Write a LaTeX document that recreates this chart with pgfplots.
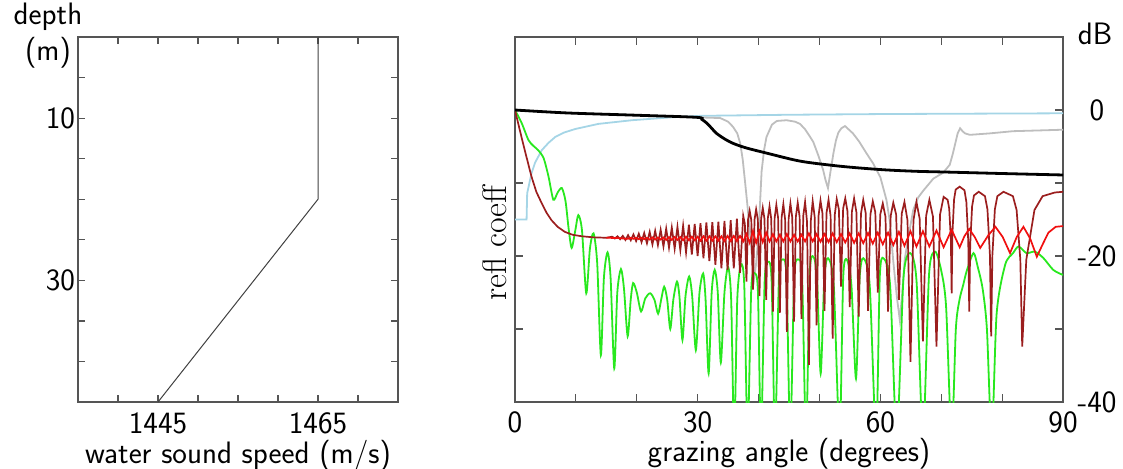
\documentclass[border=0pt]{standalone}
\usepackage{fontspec}
\usepackage{pgfplots}
\pgfplotsset{compat=1.18}
\definecolor{lblue}{RGB}{165,213,230}
\definecolor{lgray}{RGB}{190,190,190}
\definecolor{lgreen}{RGB}{40,232,30}
\definecolor{bred}{RGB}{240,15,15}
\definecolor{dred}{RGB}{155,30,30}
\definecolor{axgray}{RGB}{85,85,85}
\newcommand{\lab}{\sffamily\fontsize{15.5}{18}\selectfont}
\begin{document}
\begin{tikzpicture}
\path[use as bounding box] (0,0) rectangle (561.5pt,234pt);
% ---------------- left panel ----------------
\begin{axis}[
  at={(39pt,33pt)}, anchor=south west, scale only axis,
  width=160pt, height=182.5pt,
  xmin=1435, xmax=1475, ymin=0, ymax=45, y dir=reverse,
  xtick={1445,1465}, xticklabels={1445,1465},
  minor xtick={1440,1450,1455,1460,1470},
  ytick={10,30}, yticklabels={10,30},
  minor ytick={5,15,20,25,35,40},
  tick align=inside, xtick pos=both, ytick pos=both,
  xticklabel pos=lower, yticklabel pos=left,
  major tick length=3.5pt, minor tick length=3.5pt,
  tick style={axgray, line width=0.6pt},
  axis line style={axgray, line width=0.7pt},
  tick label style={font=\lab},
  yticklabel style={xshift=2pt},
  xticklabel style={yshift=-2pt},
  xlabel={water sound speed (m/s)},
  xlabel style={font=\lab, at={(axis description cs:0.5,0)}, anchor=center, yshift=-27pt},
]
\addplot[black!75, line width=0.5pt] coordinates {(1465,0)(1465,20)(1445,45)};
\end{axis}
% ---------------- right panel ----------------
\begin{axis}[
  at={(257.5pt,33pt)}, anchor=south west, scale only axis,
  width=274pt, height=182.5pt,
  xmin=0, xmax=90, ymin=-40, ymax=10,
  xtick={0,30,60,90}, xticklabels={0,30,60,90},
  minor xtick={10,20,40,50,70,80},
  ytick={-40,-20,0}, yticklabels={-40,-20,0},
  minor ytick={-30,-10},
  tick align=inside, xtick pos=both, ytick pos=both,
  xticklabel pos=lower, yticklabel pos=right,
  major tick length=4pt, minor tick length=4pt,
  tick style={axgray, line width=0.6pt},
  axis line style={axgray, line width=0.7pt},
  tick label style={font=\lab},
  yticklabel style={anchor=center, xshift=17pt},
  xticklabel style={yshift=-1.5pt},
  xlabel={grazing angle (degrees)},
  xlabel style={font=\lab, at={(axis description cs:0.5,0)}, anchor=center, yshift=-26pt},
]
% light blue
\addplot[lblue, line width=0.9pt] coordinates {
(0,-15)(1.9,-15)(2.0,-11.4)(2.7,-8.7)(3.3,-7.2)(4.4,-5.5)(5.5,-4.5)(6.6,-3.7)(8.0,-3.1)(9.9,-2.6)(13.7,-1.9)(19.2,-1.4)(25.7,-1.0)(30.4,-0.8)(45,-0.65)(60.8,-0.55)(75,-0.5)(90,-0.45)};
% gray
\addplot[lgray, line width=0.9pt] coordinates {
(0,0)(8.5,-0.4)(19.4,-0.7)(29.8,-1.0)(33.7,-1.1)(35.0,-1.6)(35.8,-2.3)(36.5,-3.2)(37.0,-4.6)(37.4,-6.8)(37.8,-10.0)(38.2,-13.3)(38.6,-16.9)(39.0,-21.0)(39.3,-23.0)(39.6,-21.0)(40.0,-16.9)(40.5,-8.4)(40.9,-5.5)(41.3,-3.7)(42.2,-2.0)(43.0,-1.5)(44.6,-1.4)(46.0,-1.6)(46.8,-1.9)(47.6,-2.6)(48.4,-3.6)(49.0,-4.4)(49.8,-6.2)(50.6,-8.2)(51.0,-9.6)(51.4,-10.7)(51.8,-8.5)(52.3,-5.9)(52.7,-4.2)(53.1,-3.1)(53.6,-2.5)(54.2,-2.2)(55.5,-3.2)(56.5,-4.3)(57.7,-5.9)(58.8,-7.3)(60.0,-9.2)(61.0,-12.3)(61.6,-15.5)(62.1,-20.5)(62.7,-25.5)(63.2,-28.8)(63.6,-25.0)(64.0,-20.5)(64.6,-17.4)(65.4,-13.7)(66.2,-12.0)(67.1,-11.0)(68.7,-9.4)(70.3,-8.6)(71.4,-7.5)(71.9,-6.0)(72.3,-4.6)(72.7,-3.2)(73.1,-2.5)(73.5,-2.9)(73.9,-3.2)(74.7,-3.4)(78,-3.2)(81.8,-2.9)(86,-2.8)(90,-2.7)};
% green
\addplot[lgreen, line width=0.9pt, smooth, tension=0.45] coordinates {
(0,0)(1.1,-1.8)(2.2,-4.1)(3.0,-4.9)(3.8,-5.5)(4.7,-6.6)(5.5,-9.1)(6.3,-12.3)(7.0,-11.3)(7.7,-10.7)(8.3,-12.5)(8.8,-16.2)(9.3,-18.9)(9.9,-16.5)(10.4,-14.4)(11.0,-16.5)(11.7,-25.1)(12.3,-19.0)(12.9,-16.9)(13.5,-21.0)(14.1,-33.6)(14.6,-23.0)(15.2,-19.5)(15.7,-23.0)(16.3,-35.4)(16.8,-25.0)(17.4,-21.8)(17.9,-24.5)(18.5,-31.0)(19.0,-26.0)(19.4,-23.7)(20.0,-25.0)(20.7,-27.6)(21.4,-25.8)(22.2,-25.1)(22.9,-26.0)(23.5,-27.9)(24.0,-26.0)(24.5,-24.2)(25.0,-26.0)(25.5,-30.0)(26.0,-26.0)(26.6,-23.5)(27.0,-25.5)(27.5,-31.5)(28.0,-25.5)(28.6,-22.8)(29.1,-25.5)(29.7,-32.9)(30.3,-25.0)(30.9,-22.4)(31.3,-26.0)(31.8,-36.1)(32.3,-25.0)(32.8,-21.9)(33.3,-25.0)(33.8,-34.6)(34.4,-25.0)(35.0,-21.5)(35.5,-26.0)(36.0,-45)(36.5,-26.0)(37.1,-21.2)(37.65,-24.0)(38.2,-45)(38.8,-24.5)(39.4,-22.4)(39.9,-25.0)(40.4,-45)(41.0,-23.5)(41.6,-20.8)(42.15,-23.5)(42.7,-45)(43.35,-23.0)(44.0,-20.5)(44.6,-23.0)(45.2,-45)(45.85,-23.0)(46.5,-20.5)(47.15,-23.0)(47.8,-45)(48.4,-22.5)(49.0,-20.1)(49.6,-23.0)(50.2,-36.1)(50.8,-23.0)(51.4,-20.3)(52.35,-24.0)(53.3,-45)(53.9,-23.0)(54.5,-20.5)(55.25,-24.0)(56.0,-36.8)(56.6,-23.0)(57.2,-20.3)(58.25,-24.0)(59.3,-45)(59.9,-23.0)(60.5,-20.3)(61.6,-24.0)(62.7,-45)(63.8,-23.0)(64.9,-19.6)(65.95,-23.5)(67.0,-45)(68.0,-22.5)(69.0,-19.4)(70.0,-22.0)(70.8,-27.0)(71.7,-45)(72.4,-30.0)(73.0,-26.0)(73.6,-24.0)(74.2,-22.0)(75.3,-19.6)(76.0,-21.5)(76.8,-24.5)(77.5,-30.0)(78.3,-45)(79.1,-27.9)(80.5,-21.2)(81.8,-19.6)(82.7,-18.7)(84.0,-19.6)(85.4,-19.4)(86.8,-20.3)(88.4,-21.9)(90,-22.6)};
% dark red
\addplot[dred, line width=0.85pt] coordinates {
(0,0)(0.8,-2.8)(1.6,-5.5)(2.7,-9.1)(3.5,-11.2)(4.4,-12.8)(5.2,-14.1)(6,-15.1)(7,-16.0)(8.2,-16.7)(9.5,-17.1)(11,-17.3)(13,-17.45)(15,-17.5)
(15.96,-17.35)(16.40,-17.6)(16.83,-17.3)(17.27,-17.7)(17.70,-17.25)(18.14,-17.8)(18.57,-17.15)(19.01,-17.85)(19.45,-17.05)(19.89,-17.95)
(20.33,-16.95)(20.78,-18.1)(21.22,-16.85)(21.67,-18.25)(22.12,-16.7)(22.57,-18.4)(23.02,-16.55)(23.47,-18.5)(23.92,-16.4)(24.38,-18.7)
(24.83,-16.25)(25.29,-18.85)(25.75,-16.1)(26.22,-19.0)(26.68,-16.0)(27.15,-19.2)(27.61,-15.85)(28.09,-19.5)(28.56,-15.7)(29.04,-19.8)
(29.51,-15.6)(29.99,-20.0)(30.46,-15.5)(30.95,-20.3)(31.43,-15.4)(31.92,-20.7)(32.41,-15.35)(32.91,-21.2)(33.40,-15.3)(33.90,-21.7)
(34.40,-15.2)(34.91,-21.9)(35.42,-15.1)(35.93,-21.7)(36.44,-14.9)(36.96,-22.3)
(37.48,-14.5)(37.75,-15.6)(38.01,-23.5)(38.28,-15.0)
(38.54,-13.8)(38.81,-15.1)(39.07,-24.6)(39.34,-15.0)
(39.60,-13.6)(39.88,-15.0)(40.15,-25.5)(40.42,-14.9)
(40.69,-13.4)(40.97,-14.9)(41.25,-26.0)(41.53,-14.8)
(41.80,-13.2)(42.08,-14.9)(42.36,-27.6)(42.64,-14.8)
(42.92,-13.0)(43.21,-14.8)(43.50,-27.8)(43.79,-14.7)
(44.07,-12.9)(44.36,-15.0)(44.65,-30.4)(44.94,-14.9)
(45.23,-12.8)(45.53,-14.7)(45.83,-29.0)(46.13,-14.6)
(46.43,-12.7)(46.74,-14.6)(47.04,-28.6)(47.34,-14.5)
(47.64,-12.6)(47.96,-15.3)(48.27,-34.9)(48.58,-15.2)
(48.89,-12.5)(49.21,-14.6)(49.53,-29.5)(49.85,-14.5)
(50.17,-12.4)(50.50,-14.2)(50.83,-27.5)(51.16,-14.1)
(51.49,-12.3)(51.83,-14.5)(52.17,-31.3)(52.51,-14.4)
(52.84,-12.2)(53.19,-13.6)(53.54,-24.2)(53.89,-13.5)
(54.24,-12.1)(54.61,-13.9)(54.97,-27.0)(55.33,-13.9)
(55.69,-12.1)(56.07,-14.0)(56.44,-28.3)(56.82,-14.2)
(57.19,-12.3)(57.59,-14.1)(57.98,-27.5)(58.37,-14.3)
(58.76,-12.5)(59.17,-14.0)(59.58,-25.0)(59.99,-14.3)
(60.40,-12.8)(60.84,-14.6)(61.27,-27.6)(61.70,-14.5)
(62.13,-12.7)(62.59,-14.3)(63.05,-26.0)(63.51,-14.2)
(63.96,-12.6)(64.46,-15.1)(64.95,-34.5)(65.44,-15.1)
(65.93,-12.6)(66.46,-14.9)(66.99,-31.7)(67.52,-14.5)
(68.05,-12.3)(68.64,-14.6)(69.22,-32.4)(69.81,-14.3)
(70.39,-11.9)(71.05,-12.3)(71.31,-13.5)(71.58,-17.7)(71.71,-25.1)(71.84,-16.9)(72.11,-12.25)(72.37,-10.9)
(73.03,-10.5)(73.82,-11.0)(74.13,-12.6)(74.44,-18.0)(74.60,-27.6)(74.76,-18.4)(75.07,-13.2)(75.38,-11.7)
(76.16,-11.2)(77.18,-11.8)(77.59,-13.6)(78.00,-19.9)(78.20,-31.0)(78.40,-19.9)(78.81,-13.6)(79.22,-11.8)
(80.23,-11.2)(81.77,-11.8)(82.38,-13.7)(82.99,-20.5)(83.30,-32.4)(83.97,-20.5)(85.31,-13.7)(86.65,-11.8)(88.66,-11.3)(90,-11.2)};
% bright red
\addplot[bred, line width=0.85pt] coordinates {
(15,-17.5)(17,-17.55)(18.57,-17.65)(19.01,-17.5)(19.45,-17.65)(19.89,-17.5)
(20.33,-17.7)(20.78,-17.5)(21.22,-17.7)(21.67,-17.5)(22.12,-17.75)(22.57,-17.45)(23.02,-17.75)(23.47,-17.45)(23.92,-17.75)(24.38,-17.45)
(24.83,-17.8)(25.29,-17.4)(25.75,-17.8)(26.22,-17.4)(26.68,-17.8)(27.15,-17.4)(27.61,-17.85)(28.09,-17.35)(28.56,-17.85)(29.04,-17.35)
(29.51,-17.85)(29.99,-17.35)(30.46,-17.9)(30.95,-17.3)(31.43,-17.9)(31.92,-17.3)(32.41,-17.9)(32.91,-17.3)(33.40,-17.9)(33.90,-17.3)
(34.40,-17.95)(34.91,-17.25)(35.42,-17.95)(35.93,-17.25)(36.44,-17.95)(36.96,-17.25)(37.48,-18.0)(38.01,-17.0)(38.54,-18.2)(39.07,-16.6)
(39.60,-18.2)(40.15,-16.6)(40.69,-18.1)(41.25,-16.8)(41.80,-18.0)(42.36,-17.0)(42.92,-18.0)(43.50,-17.1)(44.07,-18.0)(44.65,-17.0)
(45.23,-18.0)(45.83,-17.1)(46.43,-18.0)(47.04,-17.1)(47.64,-18.0)(48.27,-16.9)(48.89,-18.0)(49.53,-17.0)(50.17,-18.05)(50.83,-17.0)
(51.49,-18.1)(52.17,-16.9)(52.84,-18.1)(53.54,-17.0)(54.24,-18.15)(54.97,-16.9)(55.69,-18.2)(56.44,-16.9)(57.19,-18.25)(57.98,-16.85)
(58.76,-18.3)(59.58,-16.8)(60.40,-18.4)(61.27,-16.8)(62.13,-18.5)(63.05,-16.7)(63.96,-18.6)(64.95,-16.6)(65.93,-18.7)(66.99,-16.6)
(68.05,-18.7)(69.22,-16.5)(70.39,-18.8)(71.71,-16.4)(73.03,-18.8)(73.8,-17.3)(74.6,-16.3)(75.5,-17.4)(76.4,-18.9)(77.7,-17.2)
(78.9,-16.0)(80.1,-17.4)(81.3,-19.6)(82.4,-17.4)(83.5,-16.0)(84.6,-17.6)(85.7,-20.1)(86.6,-18.5)(87.6,-16.8)(88.8,-16.0)(90,-15.9)};
% black
\addplot[black, line width=1.4pt, smooth, tension=0.5] coordinates {
(0,0)(8.5,-0.4)(19.4,-0.7)(29.8,-1.0)(30.7,-1.3)(31.5,-1.8)(32.3,-2.5)(33.1,-3.2)(34.5,-4.0)(35.9,-4.6)(38.0,-5.2)(41.3,-5.9)(46.8,-7.0)(52.3,-7.6)(56.0,-7.9)(60.8,-8.2)(66.0,-8.4)(70.9,-8.5)(80.0,-8.7)(90,-8.9)};
\end{axis}
\node[font=\lab, align=center] at (24pt,216pt) {depth\\(m)};
\node[font=\lab] at (547.5pt,217pt) {dB};
\node[font=\rmfamily\fontsize{17}{20}\selectfont, rotate=90] at (247.5pt,112.5pt) {refl coeff};
\end{tikzpicture}
\end{document}
